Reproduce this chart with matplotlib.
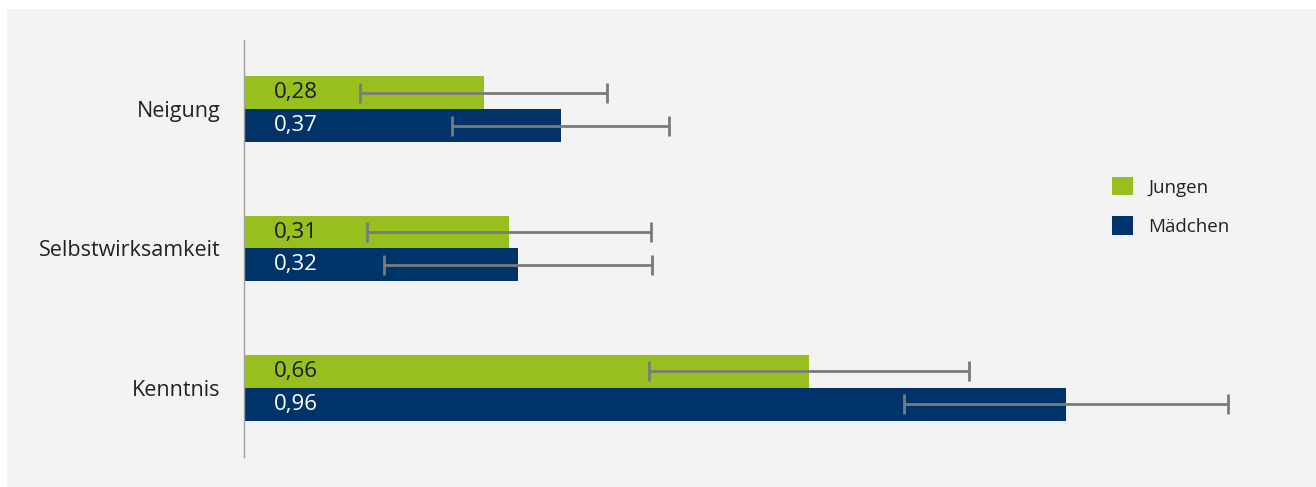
import matplotlib.pyplot as plt
from matplotlib.patches import Patch, Rectangle
import numpy as np

plt.rcParams["font.family"] = ["Open Sans", "DejaVu Sans"]

categories = ["Neigung", "Selbstwirksamkeit", "Kenntnis"]
jungen = [0.28, 0.31, 0.66]
maedchen = [0.37, 0.32, 0.96]
jungen_err = [0.144, 0.166, 0.187]
maedchen_err = [0.127, 0.157, 0.189]
jungen_labels = ["0,28", "0,31", "0,66"]
maedchen_labels = ["0,37", "0,32", "0,96"]

GREEN = "#97bf1e"
NAVY = "#00336a"
BG = "#f3f3f3"

W, H = 1316, 487
fig = plt.figure(figsize=(W / 100, H / 100), dpi=100)
fig.patch.set_facecolor("white")
fig.patches.append(Rectangle((7 / W, 0), 1 - 7 / W, 1 - 9 / H, transform=fig.transFigure,
                             facecolor=BG, edgecolor="none", zorder=-10))

ax = fig.add_axes([244 / W, (H - 457) / H, (1300 - 244) / W, 417 / H])
ax.set_facecolor("none")

y = np.arange(len(categories))
h = 0.2366
xerr_kw = dict(ecolor="#7a7a7a", elinewidth=2, capsize=7, capthick=2)
ax.barh(y - h / 2, jungen, height=h, color=GREEN, xerr=jungen_err, error_kw=xerr_kw)
ax.barh(y + h / 2, maedchen, height=h, color=NAVY, xerr=maedchen_err, error_kw=xerr_kw)

lab_kw = dict(va="center", ha="left", fontsize=16)
for yi, lab in zip(y, jungen_labels):
    ax.text(0.035, yi - h / 2, lab, color="#1a1a1a", **lab_kw)
for yi, lab in zip(y, maedchen_labels):
    ax.text(0.035, yi + h / 2, lab, color="white", **lab_kw)

ax.set_xlim(0, (1300 - 244) / 856)
ax.set_ylim(2.495, -0.495)
ax.set_yticks(y)
ax.set_yticklabels(categories, fontsize=15.5, color="#222222")
ax.tick_params(axis="y", length=0, pad=17)
ax.set_xticks([])
for s in ["top", "right", "bottom"]:
    ax.spines[s].set_visible(False)
ax.spines["left"].set_color("#a0a0a0")
ax.spines["left"].set_linewidth(1)

handles = [Patch(facecolor=GREEN, label="Jungen"), Patch(facecolor=NAVY, label="Mädchen")]
fig.legend(handles=handles, loc="upper left", bbox_to_anchor=(1095 / W, 1 - 160 / H),
           frameon=False, fontsize=13.5, handlelength=1.15, handleheight=1.15,
           labelspacing=1.05, handletextpad=0.8, labelcolor="#222222")

fig.savefig("out.png", dpi=100)
